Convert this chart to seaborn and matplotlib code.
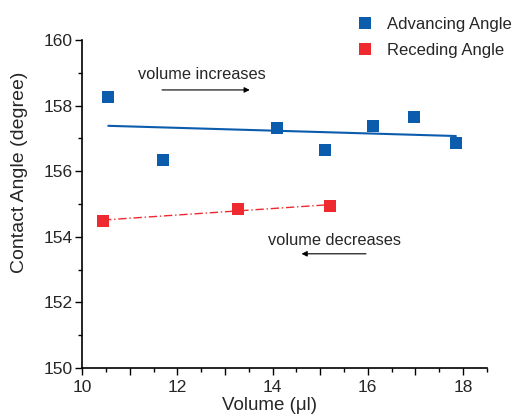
import numpy as np
import pandas as pd
import seaborn as sns
import matplotlib.pyplot as plt
from matplotlib.ticker import MultipleLocator, FuncFormatter
from matplotlib.lines import Line2D

# advancing angle (volume increasing)
adv_volume = [10.55, 11.70, 14.10, 15.10, 16.10, 16.97, 17.85]
adv_angle = [158.25, 156.35, 157.33, 156.65, 157.38, 157.65, 156.87]

# receding angle (volume decreasing)
rec_volume = [10.44, 13.28, 15.20]
rec_angle = [154.49, 154.84, 154.95]

blue = "#0B5CAD"
red = "#EE2A30"

sns.set_style("ticks")
plt.rcParams["font.family"] = ["Liberation Sans", "DejaVu Sans"]

adv = pd.DataFrame({"volume": adv_volume, "angle": adv_angle})
rec = pd.DataFrame({"volume": rec_volume, "angle": rec_angle})

fig = plt.figure(figsize=(5.13, 4.18), dpi=100)
ax = fig.add_axes([0.16, 0.12, 0.789, 0.784])

sns.regplot(data=adv, x="volume", y="angle", ax=ax, ci=None, color=blue,
            marker="s", scatter_kws={"s": 70, "linewidths": 0, "alpha": 1, "zorder": 3},
            line_kws={"lw": 1.5})
sns.regplot(data=rec, x="volume", y="angle", ax=ax, ci=None, color=red,
            marker="s", scatter_kws={"s": 70, "linewidths": 0, "alpha": 1, "zorder": 3},
            line_kws={"lw": 1.0, "ls": (0, (6, 2, 1, 2))})

ax.set_xlim(10, 18.5)
ax.set_ylim(150, 160)
ax.xaxis.set_major_locator(MultipleLocator(1))
ax.xaxis.set_minor_locator(MultipleLocator(0.5))
ax.xaxis.set_major_formatter(FuncFormatter(lambda v, p: f"{v:.0f}" if round(v) % 2 == 0 else ""))
ax.yaxis.set_major_locator(MultipleLocator(2))
ax.yaxis.set_minor_locator(MultipleLocator(1))
ax.tick_params(which="major", length=5, width=1, labelsize=12.5, color="black")
ax.tick_params(axis="x", which="major", pad=4)
ax.tick_params(axis="y", which="major", pad=2)
ax.tick_params(which="minor", length=3, width=1, color="black")
for s in ["left", "bottom"]:
    ax.spines[s].set_linewidth(1.2)
    ax.spines[s].set_color("black")
sns.despine(ax=ax)

ax.set_xlabel("Volume (\u03bcl)", fontsize=13.5)
ax.set_ylabel("Contact Angle (degree)", fontsize=14)
ax.xaxis.set_label_coords(0.464, -0.088)
ax.yaxis.set_label_coords(-0.133, 0.598)

# direction annotations
ax.text(11.18, 158.96, "volume increases", fontsize=11.8, va="center", ha="left")
ax.annotate("", xy=(13.58, 158.48), xytext=(11.62, 158.48),
            arrowprops=dict(arrowstyle="-|>", color="black", lw=0.8, mutation_scale=8))
ax.text(13.9, 153.9, "volume decreases", fontsize=11.8, va="center", ha="left")
ax.annotate("", xy=(14.55, 153.48), xytext=(16.02, 153.48),
            arrowprops=dict(arrowstyle="-|>", color="black", lw=0.8, mutation_scale=8))

handles = [
    Line2D([], [], ls="none", marker="s", ms=8, color=blue, mew=0),
    Line2D([], [], ls="none", marker="s", ms=8, color=red, mew=0),
]
fig.legend(handles, ["Advancing Angle", "Receding Angle"], loc="upper left",
           bbox_to_anchor=(0.696, 0.96), frameon=False, fontsize=12,
           handlelength=1.0, handletextpad=0.8, labelspacing=0.65,
           borderpad=0, borderaxespad=0)

fig.savefig("out.png", dpi=100)
